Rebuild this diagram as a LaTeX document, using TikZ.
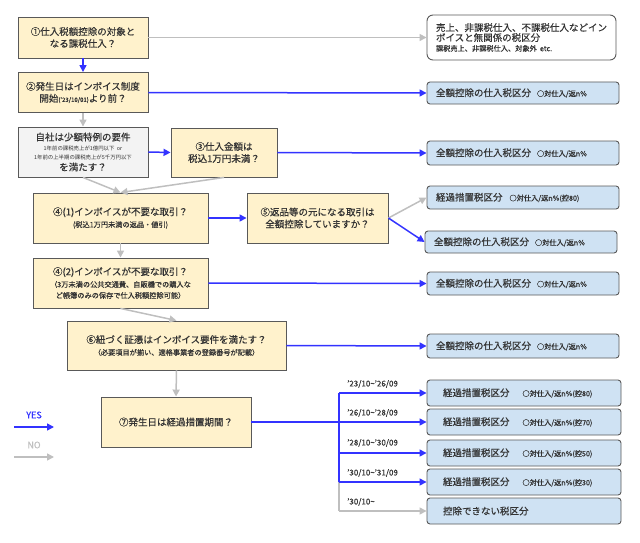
\documentclass[tikz,border=0pt]{standalone}
\usepackage{fontspec}
\setmainfont{Noto Sans CJK JP}[BoldFont={Noto Sans CJK JP}, BoldFeatures={FakeBold=0.5}]
\usetikzlibrary{arrows.meta}
\definecolor{qyellow}{HTML}{FFF2CC}
\definecolor{qgray}{HTML}{F3F3F3}
\definecolor{rblue}{HTML}{CFE2F3}
\definecolor{bord}{HTML}{595959}
\definecolor{yesc}{HTML}{3333FF}
\definecolor{noc}{HTML}{BFBFBF}
\definecolor{txt}{HTML}{333333}
\newcommand\fsm{\fontsize{9.5}{12}\selectfont}
\newcommand\fss{\fontsize{7.2}{9.5}\selectfont}
\newcommand\fst{\mdseries\fontsize{5.4}{7}\selectfont}
\newcommand\tld{\textasciitilde}
\tikzset{
  x=1pt, y=-1pt,
  qbox/.style={draw=bord, fill=qyellow, line width=0.9pt, align=center, inner sep=0pt, text=txt, font=\fsm},
  rbox/.style={draw=bord, fill=rblue, line width=0.9pt, rounded corners=3pt, align=left, inner ysep=0pt, text=txt, font=\fsm},
  yesline/.style={draw=yesc, line width=1.5pt},
  noline/.style={draw=noc, line width=1.5pt},
  yes/.style={yesline, -{Triangle[length=7pt,width=7pt]}},
  no/.style={noline, -{Triangle[length=7pt,width=7pt]}},
  datelbl/.style={anchor=west, text=txt, font=\fontsize{8}{9}\selectfont, inner sep=0pt},
}
\begin{document}
\bfseries
\begin{tikzpicture}
\useasboundingbox (0,0) rectangle (640,543);
% question boxes
\node[qbox, minimum width=130pt, minimum height=41pt] (q1) at (83,37.5) {①仕入税額控除の対象と\\なる課税仕入？};
\node[qbox, minimum width=130pt, minimum height=40pt] (q2) at (83,92.5) {②発生日はインボイス制度\\開始{\fontsize{6}{7}\selectfont('23/10/01)}より前？};
\node[qbox, fill=qgray, minimum width=130pt, minimum height=50pt] (q3) at (83,152) {自社は少額特例の要件\\[-2pt]{\fst 1年前の課税売上が1億円以下\ \ or}\\[-3pt]{\fst 1年前の上半期の課税売上が5千万円以下}\\[-1pt]を満たす？};
\node[qbox, minimum width=106pt, minimum height=49pt] (q3b) at (224,152.5) {③仕入金額は\\税込1万円未満？};
\node[qbox, minimum width=175pt, minimum height=50pt] (q41) at (120.5,218) {④(1)インボイスが不要な取引？\\{\fss(税込1万円未満の返品・値引)}};
\node[qbox, minimum width=141pt, minimum height=50pt] (q5) at (317.5,218) {⑤返品等の元になる取引は\\全額控除していますか？};
\node[qbox, minimum width=175pt, minimum height=50pt] (q42) at (120.5,283) {④(2)インボイスが不要な取引？\\{\fss（3万未満の公共交通費、自販機での購入な}\\[-1pt]{\fss ど帳簿のみの保存で仕入税額控除可能）}};
\node[qbox, minimum width=219pt, minimum height=49pt] (q6) at (176.5,345.5) {⑥紐づく証憑はインボイス要件を満たす？\\{\fss（必要項目が揃い、適格事業者の登録番号が記載）}};
\node[qbox, minimum width=150pt, minimum height=50pt] (q7) at (176,422) {⑦発生日は経過措置期間？};
% result boxes
\node[rbox, fill=white, rounded corners=6pt, minimum height=45pt, inner xsep=9pt, text width=171pt] (r0) at (521.5,37.5) {売上、非課税仕入、不課税仕入などイン\\[-2pt]ボイスと無関係の税区分\\[-2pt]{\fss 課税売上、非課税仕入、対象外 etc.}};
\node[rbox, minimum height=22pt, inner xsep=9pt, text width=174pt] (r1) at (523,93) {全額控除の仕入税区分\hspace{6pt}{\fss ○対仕入/返n\%}};
\node[rbox, minimum height=24pt, inner xsep=9pt, text width=174pt] (r2) at (523,153) {全額控除の仕入税区分\hspace{6pt}{\fss ○対仕入/返n\%}};
\node[rbox, minimum height=23pt, inner xsep=9pt, text width=174pt] (r3) at (523,197.5) {経過措置税区分\hspace{7pt}{\fss ○対仕入/返n\%(控80)}};
\node[rbox, minimum height=22pt, inner xsep=9pt, text width=174pt] (r4) at (521,242) {全額控除の仕入税区分\hspace{6pt}{\fss ○対仕入/返n\%}};
\node[rbox, minimum height=23pt, inner xsep=9pt, text width=174pt] (r5) at (523,283.5) {全額控除の仕入税区分\hspace{6pt}{\fss ○対仕入/返n\%}};
\node[rbox, minimum height=24pt, inner xsep=9pt, text width=174pt] (r6) at (523,346) {全額控除の仕入税区分\hspace{6pt}{\fss ○対仕入/返n\%}};
\node[rbox, minimum height=26pt, inner xsep=16pt, text width=162pt] (f1) at (524,393) {経過措置税区分\hspace{13pt}{\fss ○対仕入/返n\%(控80)}};
\node[rbox, minimum height=26pt, inner xsep=16pt, text width=162pt] (f2) at (524,422) {経過措置税区分\hspace{13pt}{\fss ○対仕入/返n\%(控70)}};
\node[rbox, minimum height=26pt, inner xsep=16pt, text width=162pt] (f3) at (524,453) {経過措置税区分\hspace{13pt}{\fss ○対仕入/返n\%(控50)}};
\node[rbox, minimum height=26pt, inner xsep=16pt, text width=162pt] (f4) at (524,482) {経過措置税区分\hspace{13pt}{\fss ○対仕入/返n\%(控30)}};
\node[rbox, minimum height=26pt, inner xsep=16pt, text width=162pt] (f5) at (524,511) {控除できない税区分};
% connectors
\draw[yes] (q1) -- (q2);
\draw[no] (q2) -- (q3);
\draw[no] (q1.east) -- (r0.west);
\draw[yes] (q2.east) -- (r1.west);
\draw[yes] (q3.east) -- (q3b.west);
\draw[yes] (q3b.east) -- (r2.west);
\draw[no] (q3.south) -- (q41.north);
\draw[no] (q3b.south) -- (q41.north);
\draw[yes] (q41.east) -- (q5.west);
\draw[no] (q5.east) -- (r3.west);
\draw[yes] (q5.east) -- (r4.west);
\draw[no] (q41.south) -- (q42.north);
\draw[yes] (q42.east) -- (r5.west);
\draw[no] (q42.south) -- (q6.north);
\draw[yes] (q6.east) -- (r6.west);
\draw[no] (q6.south) -- (q7.north);
% period branches
\coordinate (t1) at (339,393);
\coordinate (t2) at (339,422);
\coordinate (t3) at (339,453);
\coordinate (t4) at (339,482);
\coordinate (t5) at (339,511);
\draw[noline] (t4) -- (t5);
\draw[yesline] (t1) -- (t4);
\draw[yesline] (q7.east) -- (t2);
\draw[yes] (t1) -- (f1.west);
\draw[yes] (t2) -- (f2.west);
\draw[yes] (t3) -- (f3.west);
\draw[yes] (t4) -- (f4.west);
\draw[no] (t5) -- (f5.west);
\node[datelbl] (d1) at (347,384) {'23/10\tld'26/09};
\node[datelbl] (d2) at (347,413) {'26/10\tld'28/09};
\node[datelbl] (d3) at (347,443) {'28/10\tld'30/09};
\node[datelbl] (d4) at (347,473) {'30/10\tld'31/09};
\node[datelbl] (d5) at (347,502) {'30/10\tld};
% legend
\node[text=yesc, font=\fontsize{9}{10}\selectfont] (ly) at (34,415) {YES};
\node[text=noc, font=\fontsize{9}{10}\selectfont] (ln) at (34,445) {NO};
\coordinate (ya) at (14,427);
\coordinate (yb) at (54,427);
\coordinate (na) at (14,457);
\coordinate (nb) at (54,457);
\draw[yes] (ya) -- (yb);
\draw[no] (na) -- (nb);
\end{tikzpicture}
\end{document}
